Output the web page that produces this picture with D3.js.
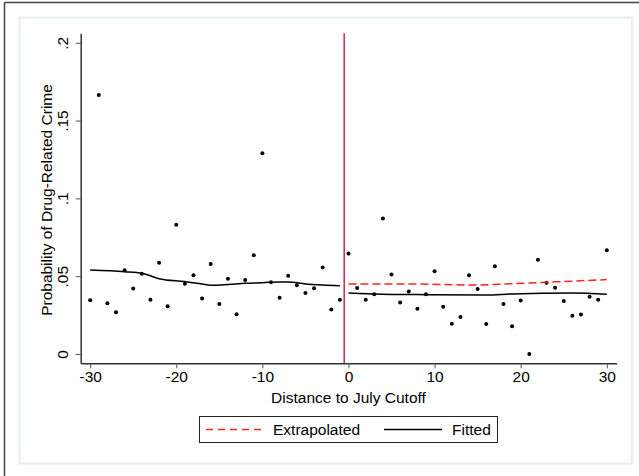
<!DOCTYPE html>
<html><head><meta charset="utf-8">
<script src="https://cdn.jsdelivr.net/npm/d3@7"></script>
<style>body{margin:0;background:#fff}svg{display:block}text{font-family:"Liberation Sans",Arial,sans-serif;fill:#000}</style>
</head><body><svg id="c" width="639" height="476"></svg>
<script>
// Data
const days = d3.range(-30, 31);
const probs = [0.0345,0.1665,0.0326,0.0268,0.0538,0.0420,0.0516,0.0349,0.0587,0.0306,
  0.0831,0.0452,0.0506,0.0356,0.0578,0.0321,0.0484,0.0255,0.0476,0.0634,
  0.1290,0.0461,0.0362,0.0503,0.0441,0.0392,0.0422,0.0555,0.0285,0.0349,
  0.0645,0.0424,0.0349,0.0383,0.0870,0.0510,0.0330,0.0401,0.0291,0.0383,
  0.0531,0.0304,0.0195,0.0238,0.0506,0.0418,0.0193,0.0563,0.0321,0.0178,
  0.0343,0.0000,0.0606,0.0458,0.0426,0.0341,0.0246,0.0253,0.0368,0.0349,0.0666];
const fittedLeftX = [-30,-26,-24,-22,-19,-17,-16,-14,-12,-10,-8,-7,-5,-3,-1];
const fittedLeftY = [0.0540,0.0529,0.0519,0.0484,0.0465,0.0450,0.0441,0.0446,0.0454,0.0458,0.0463,0.0463,0.0450,0.0443,0.0439];
const fittedRightX = [0,3,9,16,19,26,30];
const fittedRightY = [0.0392,0.0386,0.0381,0.0379,0.0386,0.0392,0.0384];
const extrapX = [0,7,14.5,19,23,30];
const extrapY = [0.0450,0.0450,0.0443,0.0452,0.0461,0.0478];
const xTicks = [-30,-20,-10,0,10,20,30];
const xTickLabels = ["-30","-20","-10","0","10","20","30"];
const yTicks = [0,0.05,0.1,0.15,0.2];
const yTickLabels = ["0",".05",".1",".15",".2"];
const cutoff = -0.5;
const xTitle = "Distance to July Cutoff";
const yTitle = "Probability of Drug-Related Crime";
const legendLabels = ["Extrapolated","Fitted"];

const svg = d3.select("#c");
const FS = 15.5;
// outer frames
svg.append("line").attr("x1",4.5).attr("y1",2.5).attr("x2",639).attr("y2",2.5).attr("stroke","#444").attr("stroke-width",1.5);
svg.append("line").attr("x1",4.5).attr("y1",2.5).attr("x2",4.5).attr("y2",476).attr("stroke","#444").attr("stroke-width",1.5);
svg.append("rect").attr("x",19.5).attr("y",17.5).attr("width",612.5).attr("height",446)
  .attr("fill","#fff").attr("stroke","#e6eff0").attr("stroke-width",2);

const x = d3.scaleLinear().domain([-31.1,31.15]).range([80.7,616.7]);
const y = d3.scaleLinear().domain([-0.006,0.2061]).range([363.3,33.3]);

// axes
const xAxis = svg.append("g").attr("transform","translate(0,363.3)")
  .call(d3.axisBottom(x).tickValues(xTicks).tickSizeOuter(0).tickSizeInner(5).tickPadding(3).tickFormat((d,i)=>xTickLabels[i]));
xAxis.select(".domain").attr("stroke","#333").attr("stroke-width",1.5);
xAxis.selectAll(".tick line").attr("stroke","#555");
xAxis.selectAll(".tick text").attr("font-size",FS).attr("font-family","Liberation Sans, Arial, sans-serif").attr("fill","#000").attr("dy","0.72em");

const yAxis = svg.append("g").attr("transform","translate(80.7,0)")
  .call(d3.axisLeft(y).tickValues(yTicks).tickSizeOuter(0).tickSizeInner(5).tickFormat((d,i)=>yTickLabels[i]));
yAxis.select(".domain").attr("stroke","#333").attr("stroke-width",1.5);
yAxis.selectAll(".tick line").attr("stroke","#555");
yAxis.selectAll(".tick text").attr("font-size",FS).attr("font-family","Liberation Sans, Arial, sans-serif").attr("fill","#000")
  .attr("x",null).attr("dy",null).attr("text-anchor","middle").attr("transform","translate(-12.7,0) rotate(-90)").attr("y",0);

// titles
svg.append("text").attr("x",348.5).attr("y",403).attr("text-anchor","middle").attr("font-size",FS).text(xTitle);
svg.append("text").attr("transform","translate(51.5,200) rotate(-90)").attr("text-anchor","middle").attr("font-size",FS).text(yTitle);

// cutoff line
svg.append("line").attr("x1",x(cutoff)).attr("x2",x(cutoff)).attr("y1",y.range()[1]).attr("y2",y.range()[0])
  .attr("stroke","#cc0033").attr("stroke-width",1.3);

// points
svg.append("g").selectAll("circle").data(days.map((d,i)=>[d,probs[i]])).join("circle")
  .attr("cx",d=>x(d[0])).attr("cy",d=>y(d[1])).attr("r",2).attr("fill","#000");

const line = d3.line().x(d=>x(d[0])).y(d=>y(d[1])).curve(d3.curveMonotoneX);
const zip = (a,b)=>a.map((v,i)=>[v,b[i]]);
svg.append("path").attr("d",line(zip(fittedLeftX,fittedLeftY))).attr("fill","none").attr("stroke","#000").attr("stroke-width",1.5);
svg.append("path").attr("d",line(zip(fittedRightX,fittedRightY))).attr("fill","none").attr("stroke","#000").attr("stroke-width",1.5);
svg.append("path").attr("d",line(zip(extrapX,extrapY))).attr("fill","none").attr("stroke","#ff2020").attr("stroke-width",1.5).attr("stroke-dasharray","8,4");

// legend
const lg = svg.append("g");
lg.append("rect").attr("x",199.5).attr("y",416.5).attr("width",298).attr("height",26).attr("fill","#fff").attr("stroke","#222").attr("stroke-width",1);
lg.append("line").attr("x1",206).attr("x2",264).attr("y1",429.5).attr("y2",429.5).attr("stroke","#ff2020").attr("stroke-width",1.5).attr("stroke-dasharray","7,5");
lg.append("text").attr("x",273).attr("y",434.5).attr("font-size",FS).text(legendLabels[0]);
lg.append("line").attr("x1",384).attr("x2",442).attr("y1",429.5).attr("y2",429.5).attr("stroke","#000").attr("stroke-width",1.5);
lg.append("text").attr("x",452).attr("y",434.5).attr("font-size",FS).text(legendLabels[1]);
</script></body></html>
